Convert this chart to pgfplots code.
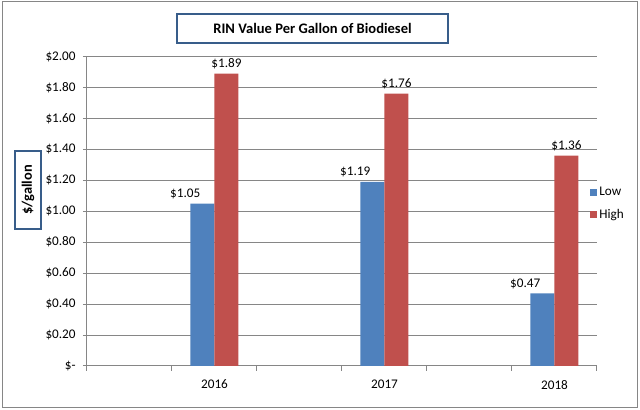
\documentclass[border=0pt]{standalone}
\usepackage{pgfplots}
\pgfplotsset{compat=1.18}
\usepackage{fontspec}
\setmainfont{Carlito}
\definecolor{lowblue}{RGB}{79,129,189}
\definecolor{highred}{RGB}{192,80,77}
\definecolor{boxblue}{RGB}{56,93,138}
\definecolor{gridgray}{RGB}{134,134,134}
\begin{document}
\begin{tikzpicture}
\useasboundingbox (0,0) rectangle (480pt,307.5pt);
% chart frame, title box and y label box, in pixel units from the top left
\begin{scope}[x=0.75pt,y=-0.75pt,shift={(0pt,307.5pt)}]
	\draw[gridgray, line width=0.75pt] (2.5,1.5) rectangle (637.5,407.5);
	\draw[boxblue, line width=2pt, fill=white] (177,14) rectangle (448,43);
	\node[font=\fontsize{10.9}{13}\selectfont\bfseries] at (312.5,28.5) {RIN Value Per Gallon of Biodiesel};
	\draw[boxblue, line width=2pt, fill=white] (15,151) rectangle (41,229);
	\node[rotate=90, font=\fontsize{10.8}{13}\selectfont\bfseries] at (28,190) {\$/gallon};
\end{scope}
\begin{axis}[
		at={(65.25pt,33pt)}, anchor=south west,
		scale only axis, width=382.5pt, height=232.1pt,
		xmin=0.5, xmax=6.5, ymin=0, ymax=2,
		axis x line*=bottom, axis y line*=left,
		axis line style={-, gridgray, line width=0.75pt},
		xtick pos=bottom, ytick pos=left,
		tick align=outside,
		major tick length=3pt, minor tick length=3.75pt,
		tick style={gridgray, line width=0.75pt},
		ytick={0,0.2,0.4,0.6,0.8,1,1.2,1.4,1.6,1.8,2},
		yticklabels={\$-,\$0.20,\$0.40,\$0.60,\$0.80,\$1.00,\$1.20,\$1.40,\$1.60,\$1.80,\$2.00},
		ymajorgrids, grid style={gridgray, line width=0.75pt},
		xtick={2,4,6}, xticklabels={2016,2017,2018},
		major x tick style={draw=none},
		minor xtick={0.5,1.5,2.5,3.5,4.5,5.5,6.5},
		ticklabel style={font=\fontsize{9.9}{12}\selectfont},
		xticklabel style={yshift=-4pt},
		yticklabel style={xshift=-2pt},
		ybar=0pt, bar width=18pt,
		nodes near coords={\$\pgfmathprintnumber[fixed,fixed zerofill,precision=2,assume math mode=true]{\pgfplotspointmeta}},
		every node near coord/.append style={font=\fontsize{9.9}{12}\selectfont, black},
		legend style={draw=none, fill=none, at={(axis description cs:0.986,0.525)}, anchor=west,
			font=\fontsize{9.9}{12}\selectfont, row sep=4.5pt, inner sep=0pt},
		legend cell align=left,
	]
	\addplot[fill=lowblue, draw=none,
		every node near coord/.append style={xshift=-13pt},
		legend image code/.code={\fill[lowblue] (0pt,-2.5pt) rectangle (5pt,2.5pt);}]
		coordinates {(2,1.05) (4,1.19) (6,0.47)};
	\addplot[fill=highred, draw=none,
		legend image code/.code={\fill[highred] (0pt,-2.5pt) rectangle (5pt,2.5pt);}]
		coordinates {(2,1.89) (4,1.76) (6,1.36)};
	\legend{Low,High}
\end{axis}
\end{tikzpicture}
\end{document}
